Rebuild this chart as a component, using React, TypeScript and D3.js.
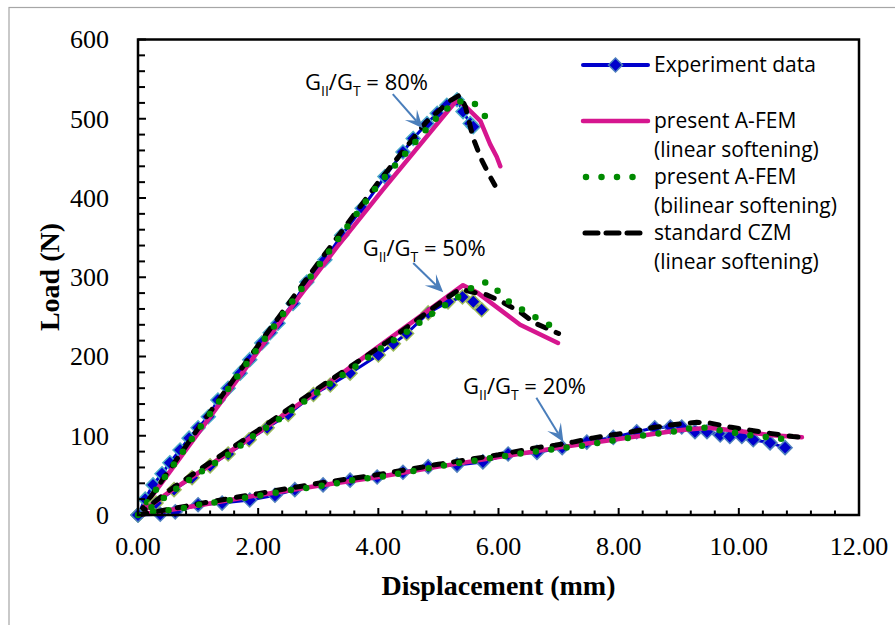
import React from "react";
import * as d3 from "d3";

type Pt = [number, number];

// x ticks (mm) and y ticks (N)
const xTicks = [0, 2, 4, 6, 8, 10, 12];
const yTicks = [0, 100, 200, 300, 400, 500, 600];

// G_II/G_T = 80%
const exp80: Pt[] = [[0,0],[0.12,20],[0.25,38],[0.4,52],[0.53,66],[0.7,82],[0.85,97],[1.0,110],[1.17,124],[1.33,145],[1.5,160],[1.7,179],[1.86,196],[2.06,217],[2.2,230],[2.33,242],[2.58,267],[2.81,294],[3.11,322],[3.39,353],[3.73,387],[4.11,427],[4.41,458],[4.58,475],[4.81,494],[4.98,507],[5.14,517],[5.31,524],[5.41,509],[5.53,494],[5.58,490]];
const lin80: Pt[] = [[0,0],[0.7,72],[2.06,213],[3.31,338],[4.08,411],[5.3,523],[5.42,518],[5.7,497],[5.86,468],[5.97,452],[6.03,440]];
const bil80: Pt[] = [[0,0],[1,107],[2,211],[3,314],[4,417],[5,504],[5.3,522],[5.58,521],[5.74,507],[5.9,490]];
const czm80: Pt[] = [[0,0],[1,109],[2,214],[3,318],[4,420],[4.8,496],[5.2,523],[5.36,530],[5.45,515],[5.58,475],[5.72,448],[5.86,427],[5.94,416]];

// G_II/G_T = 50%
const exp50: Pt[] = [[0,0],[0.3,15],[0.6,32],[0.9,47],[1.2,62],[1.5,77],[1.85,95],[2.15,110],[2.5,127],[2.92,152],[3.2,164],[3.53,179],[4.0,202],[4.25,216],[4.47,229],[4.83,255],[5.16,269],[5.4,275],[5.58,269],[5.72,259]];
const lin50: Pt[] = [[0,0],[0.5,28],[1,53],[2,104],[3,157],[4.14,220],[5.41,290],[5.66,280],[6.36,240],[6.99,217]];
const bil50: Pt[] = [[0,0],[0.23,10],[0.65,34],[1.06,55],[1.5,76],[1.91,99],[2.35,121],[2.76,143],[3.2,166],[3.65,189],[4.06,211],[4.47,231],[4.91,255],[5.33,275],[5.58,288],[5.8,294],[5.94,286],[6.19,268],[6.49,255],[6.81,241],[6.97,236]];
const czm50: Pt[] = [[0,0],[0.5,30],[1,56],[2,107],[3,160],[4.14,218],[5.14,274],[5.36,285],[5.58,281],[5.8,278],[6.06,269],[6.36,256],[6.61,242],[6.94,231],[7.0,229]];

// G_II/G_T = 20%
const exp20: Pt[] = [[0,0],[0.37,1],[0.62,4],[1.0,13],[1.4,15],[1.86,19],[2.28,25],[2.61,32],[3.08,38],[3.53,44],[3.98,48],[4.41,54],[4.83,61],[5.31,63],[5.74,67],[6.16,77],[6.64,79],[7.06,85],[7.47,92],[7.91,98],[8.3,105],[8.6,110],[8.86,111],[9.05,111],[9.27,105],[9.47,105],[9.69,101],[9.85,99],[10.05,99],[10.24,95],[10.52,91],[10.77,85]];
const lin20: Pt[] = [[0,0],[0.5,6],[1,12],[2,25],[3,37],[4,48],[5,61],[6,73],[7,85],[8,96],[9,107],[9.5,110],[10,106],[10.5,101],[11.05,98]];
const bil20: Pt[] = [[0,0],[0.25,4],[0.53,6],[0.78,9],[1.03,13],[1.56,19],[2.06,25],[2.58,32],[3.08,37],[3.58,44],[4.11,49],[4.61,56],[5.14,63],[5.39,66],[6.41,78],[6.92,83],[7.44,88],[7.96,95],[8.46,101],[8.97,106],[9.22,110],[9.49,110],[9.74,106],[10.25,100],[10.75,96]];
const czm20: Pt[] = [[0,0],[0.5,7],[1,14],[2,27],[3,40],[4,51],[5,64],[6,76],[6.64,85],[6.94,88],[7.24,92],[7.56,97],[7.89,101],[8.22,105],[8.55,110],[8.9,114],[9.3,117],[9.52,116],[9.85,111],[10.19,107],[10.52,103],[10.9,99],[11.05,98]];

const groups = [
  { exp: exp80, lin: lin80, bil: bil80, czm: czm80, edge: "#4BACC6" },
  { exp: exp50, lin: lin50, bil: bil50, czm: czm50, edge: "#9BBB59" },
  { exp: exp20, lin: lin20, bil: bil20, czm: czm20, edge: "#4F81BD" },
];

// annotation: label pos and arrow (start -> tip), in data units
const notes = [
  { pct: "80%", lx: 2.78, ly: 546, from: [4.24, 531] as Pt, to: [4.74, 488] as Pt },
  { pct: "50%", lx: 3.74, ly: 337, from: [4.58, 318] as Pt, to: [5.08, 281] as Pt },
  { pct: "20%", lx: 5.41, ly: 162, from: [6.63, 148] as Pt, to: [7.08, 92] as Pt },
];

const legendRows = [
  { kind: "exp", lines: ["Experiment data"] },
  { kind: "lin", lines: ["present A-FEM", "(linear softening)"] },
  { kind: "bil", lines: ["present A-FEM", "(bilinear softening)"] },
  { kind: "czm", lines: ["standard CZM", "(linear softening)"] },
];

const BLUE = "#0000CC";
const PINK = "#D6168F";
const GREEN = "#008A00";
const ARROW = "#4A7EBB";
const SERIF = "'Liberation Serif', 'Times New Roman', serif";
const SANS = "'Open Sans', sans-serif";

const x = d3.scaleLinear().domain([0, 12]).range([138, 859]);
const y = d3.scaleLinear().domain([0, 600]).range([515, 39.5]);
const line = d3.line<Pt>().x((d) => x(d[0])).y((d) => y(d[1]));

const diamond = (cx: number, cy: number, r: number) =>
  `M${cx},${cy - r}L${cx + r},${cy}L${cx},${cy + r}L${cx - r},${cy}Z`;

const Arrow = ({ from, to }: { from: Pt; to: Pt }) => {
  const x1 = x(from[0]), y1 = y(from[1]), x2 = x(to[0]), y2 = y(to[1]);
  const a = Math.atan2(y2 - y1, x2 - x1);
  const L = 15, W = 8, notch = 10;
  const px = (d: number, s: number) => x2 - d * Math.cos(a) - s * Math.sin(a);
  const py = (d: number, s: number) => y2 - d * Math.sin(a) + s * Math.cos(a);
  const head = `M${x2},${y2}L${px(L + 3, W)},${py(L + 3, W)}L${px(notch, 0)},${py(notch, 0)}L${px(L + 3, -W)},${py(L + 3, -W)}Z`;
  return (
    <g>
      <line x1={x1} y1={y1} x2={px(notch, 0)} y2={py(notch, 0)} stroke={ARROW} strokeWidth={2} />
      <path d={head} fill={ARROW} />
    </g>
  );
};

const Ratio = ({ pct, lx, ly }: { pct: string; lx: number; ly: number }) => (
  <text x={x(lx)} y={y(ly)} dy="0.35em" fontFamily={SANS} fontSize={22} fill="#000">
    G<tspan fontSize={14} dy={6}>II</tspan>
    <tspan dy={-6}>/G</tspan>
    <tspan fontSize={14} dy={6}>T</tspan>
    <tspan dy={-6}> = {pct}</tspan>
  </text>
);

export default function App() {
  const xMinor = d3.range(0, 12.001, 0.4);
  const yMinor = d3.range(0, 600.001, 20);
  const lgX0 = 583, lgX1 = 648, lgTx = 654;
  const rowY = [65, 121, 177, 233];
  const lineGap = 29;

  return (
    <svg width={895} height={625} style={{ position: "absolute", left: 0, top: 0, background: "#fff" }}>
      <rect x={9} y={7.5} width={900} height={640} fill="#fff" stroke="#A6A6A6" strokeWidth={1.2} />

      {/* series */}
      {groups.map((g, i) => (
        <g key={i}>
          <path d={line(g.exp) ?? ""} fill="none" stroke={BLUE} strokeWidth={3} />
          {g.exp.map((d, j) => (
            <path key={j} d={diamond(x(d[0]), y(d[1]), 7)} fill={BLUE} stroke={g.edge} strokeWidth={1.5} />
          ))}
          <path d={line(g.lin) ?? ""} fill="none" stroke={PINK} strokeWidth={4.5} strokeLinejoin="round" strokeLinecap="round" />
          <path d={line(g.czm) ?? ""} fill="none" stroke="#000" strokeWidth={5} strokeDasharray="9 11" strokeLinecap="round" strokeLinejoin="round" />
          <path d={line(g.bil) ?? ""} fill="none" stroke={GREEN} strokeWidth={6.5} strokeDasharray="0 15.5" strokeLinecap="round" />
        </g>
      ))}

      {/* frame */}
      <rect x={138} y={39.5} width={721} height={475.5} fill="none" stroke="#000" strokeWidth={2.5} />
      {yMinor.map((v) => (
        <line key={"ym" + v} x1={138} x2={138 + (v % 100 === 0 ? 8 : 7)} y1={y(v)} y2={y(v)} stroke="#000" strokeWidth={2} />
      ))}
      {xMinor.map((v) => {
        const major = Math.abs(v / 2 - Math.round(v / 2)) < 1e-6;
        return <line key={"xm" + v} x1={x(v)} x2={x(v)} y1={515} y2={515 - (major ? 7 : 4.5)} stroke="#000" strokeWidth={2} />;
      })}
      {yTicks.map((v) => (
        <text key={"yt" + v} x={109} y={y(v)} dy="0.34em" textAnchor="end" fontFamily={SERIF} fontSize={26}>{v}</text>
      ))}
      {xTicks.map((v) => (
        <text key={"xt" + v} x={x(v)} y={555} textAnchor="middle" fontFamily={SERIF} fontSize={26}>{v.toFixed(2)}</text>
      ))}
      <text x={498.5} y={595} textAnchor="middle" fontFamily={SERIF} fontWeight="bold" fontSize={28}>Displacement (mm)</text>
      <text transform="translate(49,277) rotate(-90)" dy="0.35em" textAnchor="middle" fontFamily={SERIF} fontWeight="bold" fontSize={28}>Load (N)</text>

      {/* annotations */}
      {notes.map((n) => (
        <g key={n.pct}>
          <Ratio pct={n.pct} lx={n.lx} ly={n.ly} />
          <Arrow from={n.from} to={n.to} />
        </g>
      ))}

      {/* legend */}
      {legendRows.map((r, i) => {
        const cy = rowY[i];
        let sample: React.ReactNode = null;
        if (r.kind === "exp") {
          sample = (
            <g>
              <line x1={lgX0} x2={lgX1} y1={cy} y2={cy} stroke={BLUE} strokeWidth={4} strokeLinecap="round" />
              <path d={diamond((lgX0 + lgX1) / 2, cy, 7)} fill={BLUE} stroke="#4F81BD" strokeWidth={1.5} />
            </g>
          );
        } else if (r.kind === "lin") {
          sample = <line x1={lgX0} x2={lgX1} y1={cy} y2={cy} stroke={PINK} strokeWidth={4.5} strokeLinecap="round" />;
        } else if (r.kind === "bil") {
          sample = <line x1={586} x2={634} y1={cy} y2={cy} stroke={GREEN} strokeWidth={6.5} strokeDasharray="0 15.5" strokeLinecap="round" />;
        } else {
          sample = <line x1={585} x2={640} y1={cy} y2={cy} stroke="#000" strokeWidth={5} strokeDasharray="13 8" strokeLinecap="round" />;
        }
        return (
          <g key={i}>
            {sample}
            {r.lines.map((t, k) => (
              <text key={k} x={lgTx} y={cy + k * lineGap} dy="0.35em" fontFamily={SANS} fontSize={21}>{t}</text>
            ))}
          </g>
        );
      })}
    </svg>
  );
}
